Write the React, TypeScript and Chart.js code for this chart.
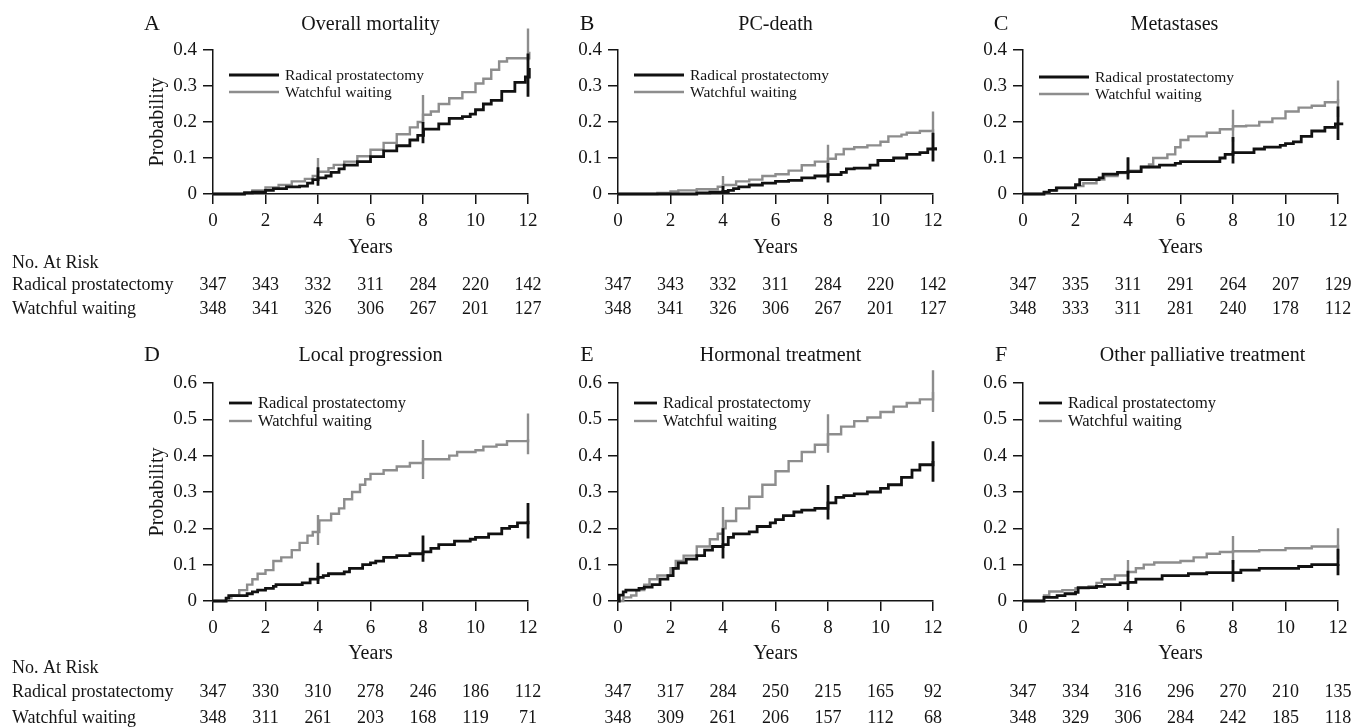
import React, { useEffect, useRef } from "react";
import { Chart, registerables } from "chart.js";

Chart.register(...registerables);

// ---------- data ----------
const years = [0, 2, 4, 6, 8, 10, 12];
const ciYears = [4, 8, 12];
const groupNames = ["Radical prostatectomy", "Watchful waiting"];
const riskRowLabels = ["No. At Risk", "Radical prostatectomy", "Watchful waiting"];
const panelLetters = ["A", "B", "C", "D", "E", "F"];
const panelTitles = [
  "Overall mortality",
  "PC-death",
  "Metastases",
  "Local progression",
  "Hormonal treatment",
  "Other palliative treatment",
];
const yMaxTop = 0.4;
const yMaxBottom = 0.6;

// A: overall mortality
const mortRP = [[0,0],[0.8,0],[1.2,0.003],[1.5,0.005],[2,0.01],[2.3,0.015],[2.8,0.02],[3.3,0.022],[3.6,0.03],[3.8,0.04],[4,0.045],[4.3,0.05],[4.5,0.06],[4.8,0.07],[5,0.08],[5.5,0.09],[6,0.104],[6.5,0.12],[7,0.134],[7.5,0.15],[7.8,0.163],[8.02,0.18],[8.6,0.195],[9,0.21],[9.5,0.215],[9.8,0.222],[10,0.234],[10.3,0.25],[10.6,0.26],[11,0.285],[11.5,0.31],[11.9,0.325],[12.05,0.35],[12.2,0.36]];
const mortWW = [[0,0],[0.8,0],[1.2,0.005],[1.5,0.01],[2,0.018],[2.5,0.025],[3,0.035],[3.5,0.042],[3.8,0.05],[4,0.062],[4.4,0.072],[4.6,0.081],[5,0.09],[5.5,0.105],[6,0.123],[6.5,0.142],[7,0.166],[7.5,0.185],[7.8,0.2],[8,0.22],[8.3,0.229],[8.6,0.25],[9,0.266],[9.5,0.283],[10,0.307],[10.3,0.32],[10.6,0.345],[10.9,0.368],[11.2,0.377],[12.05,0.395],[12.2,0.41]];
const mortRPci = [[0.023,0.074],[0.141,0.2],[0.27,0.39]];
const mortWWci = [[0.054,0.1],[0.2,0.275],[0.37,0.46]];
const mortRiskRP = [347,343,332,311,284,220,142];
const mortRiskWW = [348,341,326,306,267,201,127];

// B: PC-death
const pcRP = [[0,0],[2.5,0],[3,0.003],[3.5,0.005],[4,0.007],[4.2,0.01],[4.4,0.015],[4.6,0.02],[5,0.025],[5.5,0.03],[6,0.035],[6.5,0.038],[7,0.045],[7.5,0.05],[8,0.054],[8.5,0.06],[8.7,0.07],[9,0.072],[9.6,0.08],[9.9,0.093],[10.5,0.1],[11,0.11],[11.5,0.115],[11.8,0.125],[12.1,0.13],[12.2,0.13]];
const pcWW = [[0,0],[1.3,0],[1.5,0.003],[2,0.007],[2.3,0.01],[3,0.013],[3.8,0.02],[4,0.025],[4.5,0.035],[5,0.04],[5.5,0.05],[6,0.055],[6.5,0.065],[7,0.08],[7.5,0.09],[8,0.098],[8.3,0.11],[8.6,0.125],[9,0.13],[9.5,0.135],[10,0.145],[10.3,0.16],[10.8,0.165],[11,0.17],[11.5,0.175],[12,0.18],[12.1,0.19],[12.2,0.19]];
const pcRPci = [[0.0,0.022],[0.032,0.086],[0.09,0.17]];
const pcWWci = [[0.007,0.05],[0.072,0.137],[0.123,0.229]];
const pcRiskRP = [347,343,332,311,284,220,142];
const pcRiskWW = [348,341,326,306,267,201,127];

// C: metastases
const metRP = [[0,0],[0.5,0],[0.8,0.005],[1,0.01],[1.27,0.017],[2,0.026],[2.16,0.04],[2.9,0.045],[3.05,0.055],[3.6,0.06],[4,0.062],[4.5,0.075],[5.2,0.08],[5.8,0.085],[6,0.09],[7.5,0.1],[7.7,0.11],[8,0.115],[8.8,0.125],[9.2,0.13],[9.8,0.135],[10,0.14],[10.3,0.145],[10.6,0.16],[11,0.175],[11.5,0.185],[11.9,0.195],[12.2,0.195]];
const metWW = [[0,0],[0.5,0],[0.8,0.005],[1,0.01],[1.3,0.017],[2,0.022],[2.3,0.03],[2.8,0.04],[3.1,0.05],[3.6,0.058],[4,0.065],[4.5,0.075],[4.8,0.082],[4.96,0.1],[5.5,0.11],[5.8,0.13],[6,0.15],[6.3,0.16],[7,0.17],[7.5,0.18],[8,0.188],[8.5,0.19],[9,0.2],[9.5,0.21],[10,0.229],[10.5,0.24],[11,0.245],[11.5,0.255],[12,0.263],[12.2,0.265]];
const metRPci = [[0.04,0.102],[0.085,0.158],[0.15,0.243]];
const metWWci = [[0.045,0.1],[0.145,0.234],[0.214,0.315]];
const metRiskRP = [347,335,311,291,264,207,129];
const metRiskWW = [348,333,311,281,240,178,112];

// D: local progression
const locRP = [[0,0],[0.3,0],[0.5,0.008],[0.6,0.015],[1.3,0.02],[1.5,0.025],[1.7,0.03],[2,0.035],[2.3,0.04],[2.4,0.045],[3.4,0.05],[3.7,0.06],[4,0.065],[4.2,0.07],[4.4,0.075],[5,0.08],[5.2,0.09],[5.7,0.1],[6,0.105],[6.2,0.11],[6.5,0.12],[7,0.125],[7.5,0.13],[8,0.135],[8.3,0.145],[8.6,0.155],[9.2,0.165],[9.8,0.17],[10,0.175],[10.5,0.185],[11,0.2],[11.3,0.205],[11.6,0.215],[12,0.22],[12.1,0.225],[12.2,0.225]];
const locWW = [[0,0],[0.3,0],[0.5,0.008],[0.7,0.015],[1,0.03],[1.3,0.045],[1.5,0.06],[1.7,0.075],[2,0.085],[2.3,0.11],[2.6,0.12],[3,0.14],[3.3,0.16],[3.6,0.18],[3.8,0.19],[4.05,0.222],[4.5,0.24],[4.8,0.255],[5,0.28],[5.3,0.3],[5.6,0.32],[5.8,0.335],[6,0.35],[6.5,0.36],[7,0.37],[7.5,0.38],[8,0.39],[9,0.4],[9.3,0.41],[10,0.415],[10.3,0.425],[10.8,0.43],[11.2,0.44],[12,0.445],[12.05,0.455],[12.2,0.455]];
const locRPci = [[0.047,0.105],[0.108,0.18],[0.172,0.27]];
const locWWci = [[0.154,0.237],[0.336,0.443],[0.404,0.516]];
const locRiskRP = [347,330,310,278,246,186,112];
const locRiskWW = [348,311,261,203,168,119,71];

// E: hormonal treatment
const horRP = [[0,0],[0.05,0.016],[0.2,0.025],[0.3,0.03],[0.8,0.035],[1,0.038],[1.3,0.045],[1.6,0.06],[1.9,0.07],[2.1,0.09],[2.3,0.105],[2.6,0.115],[3,0.125],[3.3,0.14],[3.6,0.15],[4,0.155],[4.2,0.175],[4.4,0.185],[5,0.19],[5.3,0.205],[5.8,0.215],[6,0.224],[6.3,0.235],[6.7,0.245],[7,0.25],[7.5,0.255],[8,0.27],[8.3,0.285],[8.6,0.29],[9,0.295],[9.5,0.3],[10,0.31],[10.3,0.32],[10.8,0.34],[11.2,0.36],[11.5,0.375],[12,0.385],[12.2,0.385]];
const horWW = [[0,0],[0.2,0.01],[0.5,0.015],[0.7,0.03],[1,0.045],[1.2,0.06],[1.5,0.07],[2,0.09],[2.2,0.11],[2.5,0.125],[3,0.15],[3.5,0.17],[3.8,0.185],[4,0.2],[4.1,0.22],[4.5,0.255],[5,0.287],[5.5,0.32],[6,0.357],[6.5,0.385],[7,0.41],[7.5,0.43],[8,0.459],[8.5,0.48],[9,0.495],[9.5,0.505],[10,0.52],[10.5,0.535],[11,0.545],[11.5,0.555],[12,0.575],[12.2,0.585]];
const horRPci = [[0.117,0.2],[0.224,0.319],[0.328,0.44]];
const horWWci = [[0.168,0.259],[0.408,0.514],[0.52,0.635]];
const horRiskRP = [347,317,284,250,215,165,92];
const horRiskWW = [348,309,261,206,157,112,68];

// F: other palliative treatment
const palRP = [[0,0],[0.6,0],[0.8,0.01],[1.3,0.015],[1.6,0.02],[2,0.024],[2.1,0.037],[2.8,0.04],[3.1,0.045],[3.7,0.05],[4,0.051],[4.3,0.06],[5.3,0.07],[6.3,0.075],[7,0.078],[8.3,0.085],[9,0.09],[10.5,0.095],[11,0.1],[12,0.102],[12.2,0.102]];
const palWW = [[0,0],[0.6,0],[0.8,0.015],[1,0.026],[1.5,0.03],[2,0.035],[2.5,0.04],[2.8,0.05],[3,0.06],[3.5,0.07],[4,0.08],[4.3,0.09],[4.6,0.1],[5,0.106],[6,0.11],[6.5,0.12],[7,0.13],[7.5,0.135],[8,0.137],[9,0.14],[10,0.145],[11,0.15],[12,0.155],[12.2,0.156]];
const palRPci = [[0.03,0.083],[0.053,0.113],[0.071,0.144]];
const palWWci = [[0.076,0.113],[0.103,0.179],[0.114,0.2]];
const palRiskRP = [347,334,316,296,270,210,135];
const palRiskWW = [348,329,306,284,242,185,118];

// ---------- styling / layout ----------
const FONT = '"Liberation Serif", "Times New Roman", Times, serif';
const INK = "#141414";
const RP_COLOR = "#111111";
const WW_COLOR = "#8d8d8d";

const columns = [
  { left: 0, width: 565, padLeft: 146, yW: 67, padRight: 37, letterDx: -61 },
  { left: 565, width: 405, padLeft: 8, yW: 45, padRight: 37, letterDx: -31 },
  { left: 970, width: 385, padLeft: 8, yW: 45, padRight: 17, letterDx: -22 },
];
const rows = [
  { top: 0, height: 335, padTop: 50, xH: 66, padBottom: 75, titleDy: -20, legendY: [25, 42], legendLen: 50, legendSize: 15.5, riskDy: [69, 91, 115] },
  { top: 335, height: 393, padTop: 48, xH: 65, padBottom: 62, titleDy: -22, legendY: [20, 38], legendLen: 23, legendSize: 16.5, riskDy: [67, 91, 117] },
];
const titleShift = [0, 0, -6, 0, 5, 22];
const legendYShift = [0, 0, 2, 0, 0, 0];

const panelData = [
  { rp: mortRP, ww: mortWW, rpCi: mortRPci, wwCi: mortWWci, riskRP: mortRiskRP, riskWW: mortRiskWW },
  { rp: pcRP, ww: pcWW, rpCi: pcRPci, wwCi: pcWWci, riskRP: pcRiskRP, riskWW: pcRiskWW },
  { rp: metRP, ww: metWW, rpCi: metRPci, wwCi: metWWci, riskRP: metRiskRP, riskWW: metRiskWW },
  { rp: locRP, ww: locWW, rpCi: locRPci, wwCi: locWWci, riskRP: locRiskRP, riskWW: locRiskWW },
  { rp: horRP, ww: horWW, rpCi: horRPci, wwCi: horWWci, riskRP: horRiskRP, riskWW: horRiskWW },
  { rp: palRP, ww: palWW, rpCi: palRPci, wwCi: palWWci, riskRP: palRiskRP, riskWW: palRiskWW },
];

const panelDecor = {
  id: "panelDecor",
  afterDraw(chart: any, _args: any, o: any) {
    const ctx = chart.ctx;
    const ca = chart.chartArea;
    const xs = chart.scales.x;
    ctx.save();
    ctx.fillStyle = INK;
    ctx.textBaseline = "alphabetic";
    ctx.textAlign = "center";
    ctx.font = `22px ${FONT}`;
    ctx.fillText(o.letter, ca.left + o.letterDx, ca.top + o.titleDy);
    ctx.font = `20px ${FONT}`;
    ctx.fillText(o.title, (ca.left + ca.right) / 2 + o.titleDx, ca.top + o.titleDy);

    // legend
    ctx.textAlign = "left";
    ctx.textBaseline = "middle";
    ctx.font = `${o.legendSize}px ${FONT}`;
    o.legendItems.forEach((it: any, i: number) => {
      const y = ca.top + o.legendY[i];
      const x1 = ca.left + 16;
      const x2 = x1 + o.legendLen;
      ctx.strokeStyle = it.color;
      ctx.lineWidth = it.width;
      ctx.beginPath();
      ctx.moveTo(x1, y);
      ctx.lineTo(x2, y);
      ctx.stroke();
      ctx.fillStyle = INK;
      ctx.fillText(it.label, x2 + 6, y + 1);
    });

    // number at risk table
    ctx.font = `18px ${FONT}`;
    if (o.showRowLabels) {
      ctx.textAlign = "left";
      riskRowLabels.forEach((lab, k) => {
        ctx.fillText(lab, 12, ca.bottom + o.riskDy[k]);
      });
    }
    ctx.textAlign = "center";
    [o.riskRP, o.riskWW].forEach((arr: number[], k: number) => {
      arr.forEach((n, i) => {
        ctx.fillText(String(n), xs.getPixelForValue(years[i]), ca.bottom + o.riskDy[k + 1]);
      });
    });
    ctx.restore();
  },
};

function curveDataset(points: number[][], label: string, color: string, width: number, order: number) {
  return {
    label,
    data: points.map(([x, y]) => ({ x, y })),
    borderColor: color,
    backgroundColor: color,
    borderWidth: width,
    pointRadius: 0,
    stepped: "before",
    fill: false,
    clip: false,
    order,
  };
}

function ciDataset(ci: number[][], color: string, width: number, order: number) {
  const data: any[] = [];
  ci.forEach(([lo, hi], i) => {
    data.push({ x: ciYears[i], y: lo }, { x: ciYears[i], y: hi }, { x: ciYears[i], y: null });
  });
  return {
    label: "ci",
    data,
    borderColor: color,
    borderWidth: width,
    pointRadius: 0,
    spanGaps: false,
    fill: false,
    clip: false,
    order,
  };
}

function Panel({ index }: { index: number }) {
  const ref = useRef<HTMLCanvasElement | null>(null);
  const col = columns[index % 3];
  const row = rows[Math.floor(index / 3)];
  const d = panelData[index];
  const yMax = index < 3 ? yMaxTop : yMaxBottom;

  useEffect(() => {
    if (!ref.current) return;
    const axisCommon = {
      grid: { drawOnChartArea: false, drawTicks: true, tickLength: 10, color: INK, lineWidth: 1.5 },
      border: { display: true, color: INK, width: 1.5 },
    };
    const chart = new Chart(ref.current, {
      type: "line",
      data: {
        datasets: [
          curveDataset(d.rp, groupNames[0], RP_COLOR, 2.8, 0),
          ciDataset(d.rpCi, RP_COLOR, 2.8, 1),
          curveDataset(d.ww, groupNames[1], WW_COLOR, 2.4, 2),
          ciDataset(d.wwCi, WW_COLOR, 2.4, 3),
        ] as any,
      },
      options: {
        responsive: false,
        animation: false,
        events: [],
        layout: {
          padding: { left: col.padLeft, right: col.padRight, top: row.padTop, bottom: row.padBottom },
        },
        plugins: {
          legend: { display: false },
          tooltip: { enabled: false },
          panelDecor: {
            letter: panelLetters[index],
            title: panelTitles[index],
            letterDx: col.letterDx,
            titleDx: titleShift[index],
            titleDy: row.titleDy,
            legendY: row.legendY.map((v) => v + legendYShift[index]),
            legendLen: row.legendLen,
            legendSize: row.legendSize,
            legendItems: [
              { label: groupNames[0], color: RP_COLOR, width: 2.8 },
              { label: groupNames[1], color: WW_COLOR, width: 2.4 },
            ],
            riskDy: row.riskDy,
            showRowLabels: index % 3 === 0,
            riskRP: d.riskRP,
            riskWW: d.riskWW,
          },
        } as any,
        scales: {
          x: {
            type: "linear",
            min: 0,
            max: 12,
            ticks: { stepSize: 2, font: { family: FONT, size: 19 }, color: INK, padding: 6, maxRotation: 0 },
            ...axisCommon,
            title: { display: true, text: "Years", font: { family: FONT, size: 20 }, color: INK, padding: 0 },
            afterFit: (s: any) => {
              s.height = row.xH;
            },
          },
          y: {
            type: "linear",
            min: 0,
            max: yMax,
            ticks: {
              stepSize: 0.1,
              font: { family: FONT, size: 19 },
              color: INK,
              padding: 6,
              callback: (v: any) => (Number(v) === 0 ? "0" : Number(v).toFixed(1)),
            },
            ...axisCommon,
            title: {
              display: index % 3 === 0,
              text: "Probability",
              font: { family: FONT, size: 20 },
              color: INK,
              padding: 0,
            },
            afterFit: (s: any) => {
              s.width = col.yW;
            },
          },
        } as any,
      },
      plugins: [panelDecor],
    });
    return () => chart.destroy();
  }, [index]);

  return (
    <canvas
      ref={ref}
      width={col.width}
      height={row.height}
      style={{ position: "absolute", left: col.left, top: row.top, width: col.width, height: row.height }}
    />
  );
}

export default function App() {
  return (
    <div style={{ position: "absolute", left: 0, top: 0, width: 1355, height: 728, background: "#fff", overflow: "hidden" }}>
      {panelLetters.map((_, i) => (
        <Panel key={i} index={i} />
      ))}
    </div>
  );
}
